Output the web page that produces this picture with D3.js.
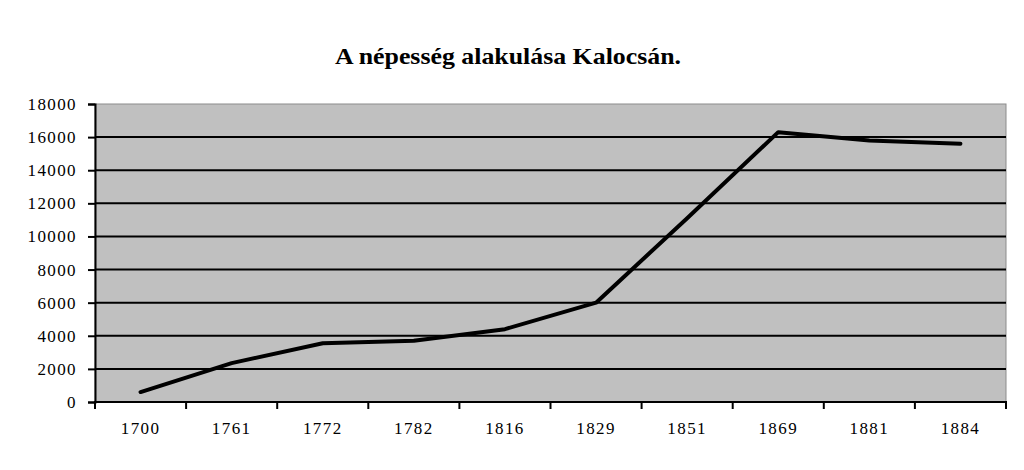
<!DOCTYPE html>
<html lang="hu">
<head>
    <meta charset="UTF-8">
    <title>A népesség alakulása Kalocsán</title>
    <script src="https://d3js.org/d3.v7.min.js"></script>
    <style>
        body {
            margin: 0;
            background: #fff;
        }
    </style>
</head>
<body>
    <svg width="1024" height="470"></svg>
    <script>
        const years = ["1700", "1761", "1772", "1782", "1816", "1829", "1851", "1869", "1881", "1884"];
        const population = [600, 2350, 3550, 3700, 4400, 6000, 11100, 16300, 15800, 15600];
        const yTicks = [0, 2000, 4000, 6000, 8000, 10000, 12000, 14000, 16000, 18000];

        const serif = "'Liberation Serif', 'Times New Roman', serif";
        const svg = d3.select("svg");
        const plotLeft = 95, plotRight = 1006, plotTop = 104, plotBottom = 402;

        const x = d3.scaleBand().domain(years).range([plotLeft, plotRight]);
        const y = d3.scaleLinear().domain([0, 18000]).range([plotBottom, plotTop]);

        // title is slightly stretched in the original, so fit it to its width
        svg.append("text")
            .attr("x", 335)
            .attr("y", 64)
            .attr("textLength", 346)
            .attr("lengthAdjust", "spacingAndGlyphs")
            .style("font-family", serif)
            .style("font-size", "23px")
            .style("font-weight", "bold")
            .text("A népesség alakulása  Kalocsán.");

        // plot area
        svg.append("rect")
            .attr("x", plotLeft)
            .attr("y", plotTop)
            .attr("width", plotRight - plotLeft)
            .attr("height", plotBottom - plotTop)
            .attr("fill", "#c0c0c0")
            .attr("stroke", "#8c8c8c")
            .attr("stroke-width", 1);

        // gridlines
        svg.append("g")
            .selectAll("line")
            .data(yTicks.filter(d => d > 0 && d < 18000))
            .join("line")
            .attr("x1", plotLeft)
            .attr("x2", plotRight)
            .attr("y1", d => y(d))
            .attr("y2", d => y(d))
            .attr("stroke", "#000")
            .attr("stroke-width", 2);

        function styleLabels(g) {
            g.selectAll(".tick text")
                .attr("fill", "#000")
                .style("font-family", serif)
                .style("font-size", "17px")
                .style("letter-spacing", "1.4px");
        }

        // y axis
        const yAxis = svg.append("g")
            .attr("transform", `translate(${plotLeft},0)`)
            .call(d3.axisLeft(y).tickValues(yTicks).tickFormat(d3.format("d")).tickSize(7).tickPadding(11));
        yAxis.select(".domain").attr("stroke", "#000").attr("stroke-width", 2);
        yAxis.selectAll(".tick line").attr("stroke", "#000").attr("stroke-width", 2);
        yAxis.call(styleLabels);

        // x axis: labels centred in bands, ticks at the band edges
        const xAxis = svg.append("g")
            .attr("transform", `translate(0,${plotBottom})`)
            .call(d3.axisBottom(x).tickSize(0).tickPadding(20));
        xAxis.select(".domain").remove();
        xAxis.call(styleLabels);

        const edges = years.map(d => x(d)).concat([x(years[years.length - 1]) + x.bandwidth()]);
        svg.append("g")
            .selectAll("line")
            .data(edges)
            .join("line")
            .attr("x1", d => d)
            .attr("x2", d => d)
            .attr("y1", plotBottom)
            .attr("y2", plotBottom + 7)
            .attr("stroke", "#000")
            .attr("stroke-width", 2);
        svg.append("line")
            .attr("x1", plotLeft - 1)
            .attr("x2", plotRight + 1)
            .attr("y1", plotBottom)
            .attr("y2", plotBottom)
            .attr("stroke", "#000")
            .attr("stroke-width", 2);

        const line = d3.line()
            .x((d, i) => x(years[i]) + x.bandwidth() / 2)
            .y(d => y(d));

        svg.append("path")
            .datum(population)
            .attr("d", line)
            .attr("fill", "none")
            .attr("stroke", "#000")
            .attr("stroke-width", 4)
            .attr("stroke-linejoin", "round")
            .attr("stroke-linecap", "round");
    </script>
</body>
</html>
